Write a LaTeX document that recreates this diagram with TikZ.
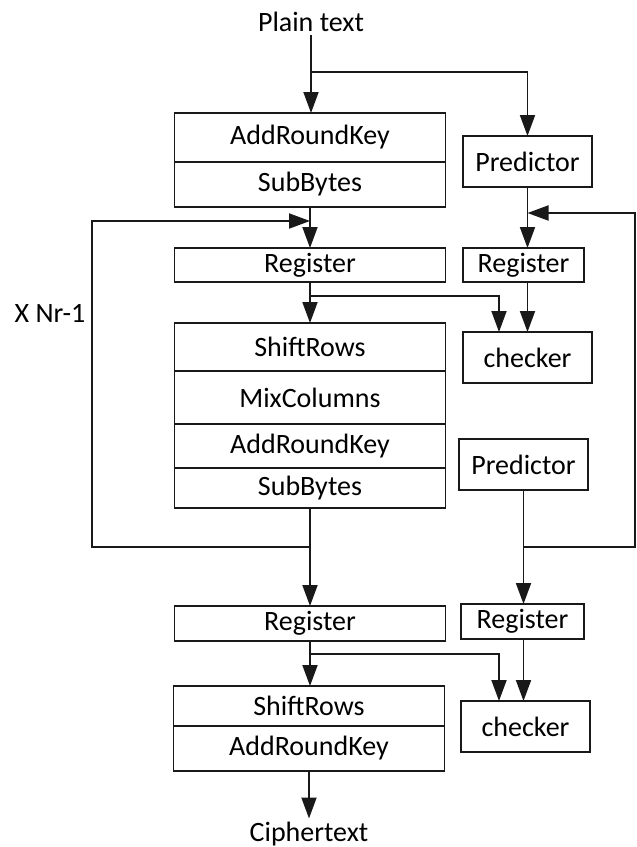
\documentclass[tikz,border=0pt]{standalone}
\usepackage{fontspec}
\setmainfont{Carlito}
\usetikzlibrary{arrows.meta,positioning}

\begin{document}
\begin{tikzpicture}[
    x=1pt, y=-1pt,
    font=\fontsize{28}{34}\selectfont,
    stage/.style={rectangle, draw=black!90, line width=1.9pt, minimum width=271pt, inner sep=0pt, outer sep=0pt},
    side/.style={rectangle, draw=black!90, line width=1.9pt, minimum width=129pt, minimum height=51pt, inner sep=0pt, outer sep=0pt},
    arr/.style={-{Triangle[length=21pt, width=15pt]}, line width=1.9pt, draw=black!90}
]
    \useasboundingbox (0,0) rectangle (637,847);

    % main round column
    \node (plain) at (311,22) {Plain text};
    \node [stage, minimum height=49pt] (ark1) at (310,137.5) {AddRoundKey};
    \node [stage, minimum height=45pt, below=0pt of ark1] (sb1) {SubBytes};
    \node [stage, minimum height=34pt] (reg1) at (310,265) {Register};
    \node [stage, minimum height=48pt] (sr1) at (310,347) {ShiftRows};
    \node [stage, minimum height=53pt, below=0pt of sr1] (mc1) {MixColumns};
    \node [stage, minimum height=44pt, below=0pt of mc1] (ark2) {AddRoundKey};
    \node [stage, minimum height=40pt, below=0pt of ark2] (sb2) {SubBytes};
    \node [stage, minimum height=35pt] (reg2) at (310,623.5) {Register};
    \node [stage, minimum height=40pt] (sr2) at (309,706) {ShiftRows};
    \node [stage, minimum height=45pt, below=0pt of sr2] (ark3) {AddRoundKey};
    \node (cipher) at (309,834) {Ciphertext};
    \node (xnr) at (50,313) {X Nr-1};

    % prediction column
    \node [side] (pred1) at (527.5,161.5) {Predictor};
    \node [side, minimum width=121pt, minimum height=34pt] (rreg1) at (523.5,265) {Register};
    \node [side] (chk1) at (527.5,357.5) {checker};
    \node [side] (pred2) at (523.5,464.5) {Predictor};
    \node [side, minimum width=123pt, minimum height=35pt] (rreg2) at (522.5,621.5) {Register};
    \node [side] (chk2) at (525.5,726.5) {checker};

    \coordinate (split1) at (311,72);
    \coordinate (tap1) at (499,296);
    \coordinate (tap2) at (499,654);
    \coordinate (lbot) at (92,547);
    \coordinate (ltop) at (92,221);
    \coordinate (rbot) at (635,547);
    \coordinate (rtop) at (635,213);

    \draw [arr] (plain.south) -- (plain.south |- ark1.north);
    \draw [arr] (split1) -| (pred1.north);
    \draw [arr] (sb1) -- (reg1);
    \draw [arr] (reg1) -- (sr1);
    \draw [arr] (sb2) -- (reg2);
    \draw [arr] (reg2.south) -- (reg2.south |- sr2.north);
    \draw [arr] (ark3) -- (cipher);
    \draw [arr] (reg1.south |- tap1) -- (tap1) -- (tap1 |- chk1.north);
    \draw [arr] (reg2.south |- tap2) -- (tap2) -- (tap2 |- chk2.north);

    \draw [arr] (pred1.south) -- (pred1.south |- rreg1.north);
    \draw [arr] (pred1.south |- rreg1.south) -- (pred1.south |- chk1.north);
    \draw [arr] (pred2.south) -- (pred2.south |- rreg2.north);
    \draw [arr] (pred2.south |- rreg2.south) -- (pred2.south |- chk2.north);

    % feedback loops
    \draw [arr] (sb2.south |- lbot) -- (lbot) -- (ltop) -- (sb1.south |- ltop);
    \draw [arr] (pred2.south |- rbot) -- (rbot) -- (rtop) -- (pred1.south |- rtop);
\end{tikzpicture}
\end{document}
